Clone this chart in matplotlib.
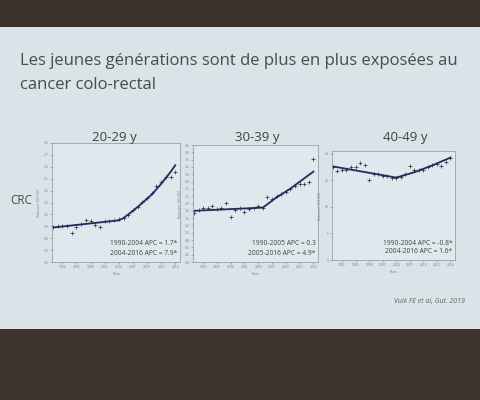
import matplotlib.pyplot as plt
from matplotlib.ticker import MultipleLocator, FormatStrFormatter
from matplotlib.patches import Rectangle

years = list(range(1990, 2017))

# 20-29 y
rate_20 = [0.88, 0.90, 0.92, 0.92, 0.73, 0.87, 0.95, 1.07, 1.03, 0.94, 0.88, 1.03, 1.03, 1.05,
           1.08, 1.11, 1.18, 1.30, 1.39, 1.51, 1.62, 1.74, 1.91, 2.01, 2.14, 2.14, 2.27]
fit_yrs_20 = [1990, 2004, 2005, 2007, 2009, 2011, 2013, 2015, 2016]
fit_20 = [0.87, 1.05, 1.11, 1.29, 1.49, 1.70, 1.97, 2.27, 2.44]

# 30-39 y
rate_30 = [1.68, 1.77, 1.83, 1.83, 1.92, 1.82, 1.84, 2.02, 1.54, 1.77, 1.86, 1.70, 1.82, 1.83,
           1.93, 1.86, 2.23, 2.16, 2.25, 2.32, 2.40, 2.51, 2.59, 2.66, 2.66, 2.74, 3.51]
fit_yrs_30 = [1990, 2005, 2008, 2011, 2014, 2016]
fit_30 = [1.75, 1.86, 2.21, 2.51, 2.86, 3.09]

# 40-49 y
rate_40 = [17.5, 16.75, 17.0, 16.9, 17.5, 17.4, 18.3, 17.9, 15.0, 16.25, 16.1, 15.75, 15.75, 15.4,
           15.5, 15.6, 16.1, 17.6, 16.9, 17.0, 16.9, 17.5, 17.8, 18.0, 17.7, 18.4, 19.25]
fit_yrs_40 = [1990, 2004, 2008, 2012, 2016]
fit_40 = [17.6, 15.5, 16.5, 17.8, 19.25]

titles = ["20-29 y", "30-39 y", "40-49 y"]
apc_text = [["1990-2004 APC = 1.7*", "2004-2016 APC = 7.9*"],
            ["1990-2005 APC = 0.3", "2005-2016 APC = 4.9*"],
            ["1990-2004 APC = -0.8*", "2004-2016 APC = 1.6*"]]

slide_bg = "#d9e3e8"
fig = plt.figure(figsize=(4.8, 4.0), dpi=100, facecolor=slide_bg)

# dark room above and below the projected slide
fig.patches.append(Rectangle((0, 1 - 27 / 400), 1, 27 / 400, transform=fig.transFigure,
                             facecolor="#3a302c", edgecolor="none", zorder=0))
fig.patches.append(Rectangle((0, 0), 1, 71 / 400, transform=fig.transFigure,
                             facecolor="#3d3430", edgecolor="none", zorder=0))

fig.text(20 / 480, 1 - 65 / 400, "Les jeunes générations sont de plus en plus exposées au",
         fontsize=12, color="#474b4e", family="Open Sans", va="baseline")
fig.text(20 / 480, 1 - 89 / 400, "cancer colo-rectal",
         fontsize=12, color="#474b4e", family="Open Sans", va="baseline")
fig.text(21 / 480, 1 - 200 / 400, "CRC", fontsize=8.5, color="#44484b",
         family="Open Sans", ha="center", va="center")
fig.text(465 / 480, 1 - 302 / 400, "Vuik FE et al, Gut. 2019", fontsize=5, color="#5e6468",
         family="Open Sans", style="italic", ha="right", va="center")

# axes boxes in pixels: left, right, top, bottom
boxes = [(52, 180, 143, 262), (193, 318, 145, 262), (332, 455, 151, 260)]
title_x = [114, 257, 405]
series = [(rate_20, fit_yrs_20, fit_20, 3.0, 0.3),
          (rate_30, fit_yrs_30, fit_30, 4.0, 0.25),
          (rate_40, fit_yrs_40, fit_40, 20.5, 5)]

for i, (l, r, t, b) in enumerate(boxes):
    ax = fig.add_axes([l / 480, 1 - b / 400, (r - l) / 480, (b - t) / 400])
    rates, fy, fv, ymax, ystep = series[i]
    ax.set_facecolor("#dfe8ec")
    ax.plot(years, rates, ls="none", marker="+", ms=2.2, mew=0.5, color="#2a2d33")
    ax.plot(fy, fv, color="#1f2b5e", lw=1.3)
    ax.set_xlim(1989.8, 2017)
    ax.set_ylim(0, ymax)
    ax.xaxis.set_major_locator(MultipleLocator(3))
    ax.yaxis.set_major_locator(MultipleLocator(ystep))
    ax.yaxis.set_major_formatter(FormatStrFormatter("%.1f" if ystep < 1 else "%d"))
    ax.tick_params(labelsize=2.2, length=1.5, width=0.4, colors="#7a8186", pad=1)
    for s in ax.spines.values():
        s.set_color("#9aa2a7")
        s.set_linewidth(0.6)
    ax.set_xlabel("Years", fontsize=2.2, color="#7a8186", labelpad=1.5)
    ax.set_ylabel("Rates per 100 000", fontsize=2.2, color="#7a8186", labelpad=2)
    fig.text(title_x[i] / 480, 1 - 141 / 400, titles[i], ha="center", va="baseline",
             fontsize=9.5, color="#3d4245", family="Open Sans")
    ax.text(0.98, 0.155, apc_text[i][0], transform=ax.transAxes, ha="right", va="center",
            fontsize=4.8, color="#3d4245", family="Open Sans")
    ax.text(0.98, 0.075, apc_text[i][1], transform=ax.transAxes, ha="right", va="center",
            fontsize=4.8, color="#3d4245", family="Open Sans")

fig.savefig("out.png", dpi=100, facecolor=slide_bg)
